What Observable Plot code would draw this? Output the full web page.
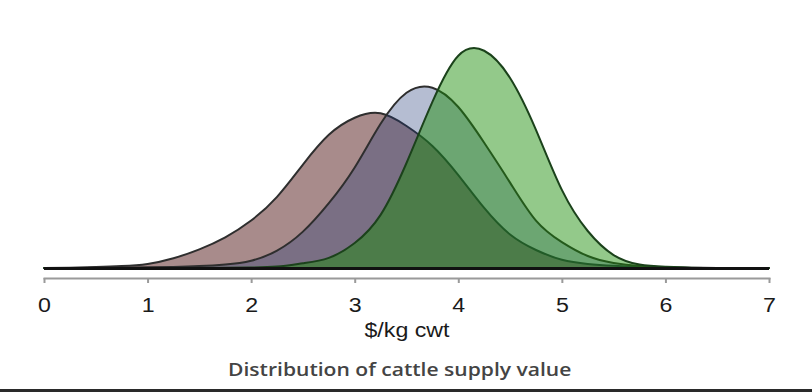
<!DOCTYPE html>
<html><head><meta charset="utf-8">
<script src="https://cdn.jsdelivr.net/npm/d3@7"></script>
<script src="https://cdn.jsdelivr.net/npm/@observablehq/plot@0.6"></script>
<style>
html,body{margin:0;padding:0;background:#fff;}
body{width:812px;height:392px;overflow:hidden;position:relative;}
#chart svg{display:block;}
#title{position:absolute;left:-6px;top:360px;width:812px;text-align:center;font-family:"Open Sans",Lato,sans-serif;font-size:18px;font-weight:600;line-height:1;color:#444;}
#title span{display:inline-block;transform:scaleX(1.17);transform-origin:50% 50%;}
#bottomline{position:absolute;left:0;top:389px;width:812px;height:3px;background:#2a2a2a;}
</style></head><body>
<div id="chart"></div>
<div id="title"><span></span></div>
<div id="bottomline"></div>
<script>
// x grid ($/kg cwt)
const xValues = [0,0.25,0.5,0.75,1,1.25,1.5,1.75,2,2.25,2.5,2.75,3,3.25,3.5,3.75,4,4.25,4.5,4.75,5,5.25,5.5,5.75,6,6.25,6.5,6.75,7];
// densities
const seriesA = [0,0.001,0.003,0.006,0.013,0.031,0.059,0.097,0.150,0.225,0.327,0.421,0.475,0.489,0.449,0.386,0.294,0.190,0.106,0.057,0.026,0.013,0.007,0.003,0.001,0,0,0,0];
const seriesB = [0,0,0.0005,0.001,0.002,0.0035,0.006,0.011,0.023,0.055,0.115,0.205,0.318,0.456,0.554,0.570,0.509,0.396,0.270,0.150,0.082,0.038,0.016,0.006,0.002,0.001,0,0,0];
const seriesC = [0,0,0,0,0,0,0,0.0005,0.0013,0.0045,0.015,0.032,0.079,0.168,0.332,0.525,0.671,0.687,0.601,0.437,0.247,0.117,0.041,0.011,0.004,0.001,0,0,0];
const seriesNames = ["A","B","C"];
const xTicks = [0,1,2,3,4,5,6,7];
const xLabel = "$/kg cwt";
const titleText = "Distribution of cattle supply value";

const rows = [];
[seriesA, seriesB, seriesC].forEach((arr, i) => {
  arr.forEach((v, j) => rows.push({series: seriesNames[i], x: xValues[j], density: v}));
});
const styles = {
  A: {fill: "#a88b8b", fillOpacity: 1, stroke: "#2e2e2e"},
  B: {fill: "rgb(30,55,118)", fillOpacity: 0.33, stroke: "#2e2e2e"},
  C: {fill: "rgb(25,140,6)", fillOpacity: 0.47, stroke: "#1b421b"}
};
const areaMarks = seriesNames.map(s => Plot.areaY(rows.filter(d => d.series === s), {
  x: "x", y: "density", curve: "natural",
  fill: styles[s].fill, fillOpacity: styles[s].fillOpacity,
  stroke: styles[s].stroke, strokeWidth: 2
}));

const chart = Plot.plot({
  width: 812,
  height: 350,
  marginLeft: 44,
  marginRight: 43,
  marginTop: 15,
  marginBottom: 72,
  style: {fontFamily: "'Liberation Sans', Arial, sans-serif", background: "#fff"},
  x: {domain: [0, 7]},
  y: {domain: [0, 0.8], insetBottom: 10, axis: null},
  marks: [
    ...areaMarks,
    Plot.ruleY([0], {stroke: "#111", strokeWidth: 2.8}),
    Plot.frame({anchor: "bottom", stroke: "#9a9a9a", strokeWidth: 2}),
    Plot.axisX({ticks: xTicks, tickSize: 5, tickPadding: 14, fontSize: 20, label: null, stroke: "#9a9a9a", strokeWidth: 2, fill: "#1a1a1a", tickFormat: d => String(d)}),
    Plot.text([xLabel], {frameAnchor: "bottom", dy: 52, lineAnchor: "middle", fontSize: 20, fill: "#1a1a1a", text: d => d})
  ]
});
document.getElementById("chart").appendChild(chart);
// the reference's lettering is horizontally stretched
d3.select(chart).selectAll("text").each(function() {
  const el = this;
  const w = el.getComputedTextLength();
  if (w > 0) {
    el.setAttribute("textLength", (w * 1.16).toFixed(1));
    el.setAttribute("lengthAdjust", "spacingAndGlyphs");
  }
});
document.querySelector("#title span").textContent = titleText;
</script>
</body></html>
